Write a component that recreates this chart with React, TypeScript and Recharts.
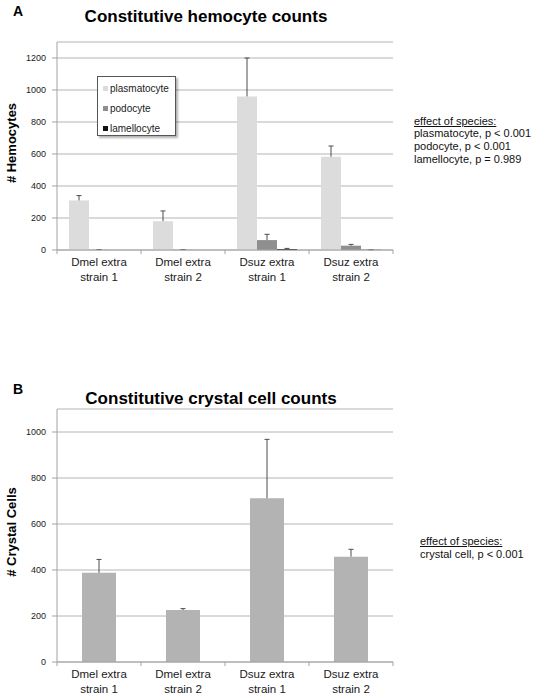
import React from 'react';
import { BarChart, Bar, XAxis, YAxis, CartesianGrid } from 'recharts';

const categories = ['Dmel extra strain 1', 'Dmel extra strain 2', 'Dsuz extra strain 1', 'Dsuz extra strain 2'];
const plasmatocyte = [310, 180, 960, 583];
const plasmatocyteErr = [30, 64, 240, 67];
const podocyte = [1, 1, 62, 27];
const podocyteErr = [2, 2, 36, 8];
const lamellocyte = [0, 0, 6, 1];
const lamellocyteErr = [0, 0, 4, 1];
const crystalCell = [388, 226, 712, 458];
const crystalCellErr = [58, 6, 256, 32];
const ticksA = [0, 200, 400, 600, 800, 1000, 1200];
const ticksB = [0, 200, 400, 600, 800, 1000];
const seriesNamesA = ['plasmatocyte', 'podocyte', 'lamellocyte'];
const seriesColorsA = ['#dcdcdc', '#8f8f8f', '#111111'];
const statsA = ['plasmatocyte, p < 0.001', 'podocyte, p < 0.001', 'lamellocyte, p = 0.989'];
const statsB = ['crystal cell, p < 0.001'];

const dataA = categories.map((name, i) => ({
  name,
  plasmatocyte: plasmatocyte[i],
  plasmatocyteErr: plasmatocyteErr[i],
  podocyte: podocyte[i],
  podocyteErr: podocyteErr[i],
  lamellocyte: lamellocyte[i],
  lamellocyteErr: lamellocyteErr[i],
}));
const dataB = categories.map((name, i) => ({
  name,
  crystal: crystalCell[i],
  crystalErr: crystalCellErr[i],
}));

const FONT = '"Liberation Sans", Arial, Helvetica, sans-serif';
const AXIS = '#a3a3a3';
const GRID = '#b4b4b4';
const ERR = '#4d4d4d';

function ErrShape(props: any) {
  const { x, y, width, height } = props;
  if (!height || height <= 0) return <g />;
  const cx = x + width / 2;
  return (
    <g>
      <line x1={cx} x2={cx} y1={y + height} y2={y} stroke={ERR} strokeWidth={1} />
      <line x1={cx - 2.5} x2={cx + 2.5} y1={y} y2={y} stroke={ERR} strokeWidth={1} />
    </g>
  );
}

function CategoryTick(props: any) {
  const { x, y, payload, index } = props;
  const text: string = payload.value;
  const lines = text.replace(' strain', '\nstrain').split('\n');
  const half = 42;
  return (
    <g>
      <line x1={x - half} x2={x - half} y1={y} y2={y + 4} stroke={AXIS} />
      {index === categories.length - 1 && <line x1={x + half} x2={x + half} y1={y} y2={y + 4} stroke={AXIS} />}
      <text x={x} y={y} textAnchor="middle" fontSize={11.5} fill="#1a1a1a" fontFamily={FONT}>
        <tspan x={x} dy={16}>{lines[0]}</tspan>
        <tspan x={x} dy={15}>{lines[1]}</tspan>
      </text>
    </g>
  );
}

const abs = (o: React.CSSProperties): React.CSSProperties => ({ position: 'absolute', ...o });

export default function App() {
  return (
    <div style={{ position: 'absolute', left: 0, top: 0, width: 537, height: 696, background: '#fff', fontFamily: FONT, color: '#000' }}>
      {/* Panel A */}
      <div style={abs({ left: 13, top: 2, fontSize: 14, fontWeight: 'bold', lineHeight: '18px' })}>A</div>
      <div style={abs({ left: 56, width: 300, top: 6, textAlign: 'center', fontSize: 17, fontWeight: 'bold', lineHeight: '22px' })}>
        Constitutive hemocyte counts
      </div>
      <div style={abs({ left: 11.5 - 60, top: 142.5 - 9, width: 120, height: 18, lineHeight: '18px', textAlign: 'center', transform: 'rotate(-90deg)', fontSize: 13, fontWeight: 'bold' })}>
        # Hemocytes
      </div>
      <div style={abs({ left: 0, top: 0 })}>
        <BarChart width={537} height={300} data={dataA} margin={{ top: 42, right: 144, bottom: 10, left: 17 }} barCategoryGap={12} barGap={0}>
          <CartesianGrid vertical={false} stroke={GRID} />
          <XAxis dataKey="name" interval={0} tick={<CategoryTick />} tickLine={false} tickSize={0} tickMargin={0} height={40} stroke={AXIS} />
          <YAxis domain={[0, 1300]} ticks={ticksA} width={40} tickSize={5} tickMargin={6} stroke={AXIS} tick={{ fontSize: 9, fill: '#1a1a1a', fontFamily: FONT }} />
          <Bar dataKey="plasmatocyte" stackId="p" fill={seriesColorsA[0]} isAnimationActive={false} />
          <Bar dataKey="plasmatocyteErr" stackId="p" fill="none" shape={<ErrShape />} isAnimationActive={false} />
          <Bar dataKey="podocyte" stackId="o" fill={seriesColorsA[1]} isAnimationActive={false} />
          <Bar dataKey="podocyteErr" stackId="o" fill="none" shape={<ErrShape />} isAnimationActive={false} />
          <Bar dataKey="lamellocyte" stackId="l" fill={seriesColorsA[2]} isAnimationActive={false} />
          <Bar dataKey="lamellocyteErr" stackId="l" fill="none" shape={<ErrShape />} isAnimationActive={false} />
        </BarChart>
      </div>
      <div
        style={abs({
          left: 97,
          top: 76,
          width: 77,
          height: 58,
          border: '1px solid #555',
          background: '#fff',
          boxShadow: '2px 2px 2px rgba(0,0,0,0.3)',
        })}
      >
        {seriesNamesA.map((n, i) => (
          <div key={n} style={abs({ left: 5, top: 4 + i * 20, height: 14, display: 'flex', alignItems: 'center', whiteSpace: 'nowrap' })}>
            <div style={{ width: 5, height: 5, background: seriesColorsA[i], marginRight: 2 }} />
            <span style={{ fontSize: 10, color: '#1a1a1a' }}>{n}</span>
          </div>
        ))}
      </div>
      <div style={abs({ left: 414, top: 114.6, fontSize: 11, lineHeight: '12.8px', whiteSpace: 'nowrap', color: '#111' })}>
        <div style={{ textDecoration: 'underline' }}>effect of species:</div>
        {statsA.map((s, i) => (
          <div key={i}>{s}</div>
        ))}
      </div>

      {/* Panel B */}
      <div style={abs({ left: 13, top: 380, fontSize: 14, fontWeight: 'bold', lineHeight: '18px' })}>B</div>
      <div style={abs({ left: 61, width: 300, top: 388, textAlign: 'center', fontSize: 17, fontWeight: 'bold', lineHeight: '22px' })}>
        Constitutive crystal cell counts
      </div>
      <div style={abs({ left: 12 - 60, top: 531.5 - 9, width: 120, height: 18, lineHeight: '18px', textAlign: 'center', transform: 'rotate(-90deg)', fontSize: 13, fontWeight: 'bold' })}>
        # Crystal Cells
      </div>
      <div style={abs({ left: 0, top: 340 })}>
        <BarChart width={537} height={356} data={dataB} margin={{ top: 69, right: 144, bottom: 4, left: 17 }} barCategoryGap={25} barGap={0}>
          <CartesianGrid vertical={false} stroke={GRID} />
          <XAxis dataKey="name" interval={0} tick={<CategoryTick />} tickLine={false} tickSize={0} tickMargin={0} height={30} stroke={AXIS} />
          <YAxis domain={[0, 1100]} ticks={ticksB} width={40} tickSize={5} tickMargin={6} stroke={AXIS} tick={{ fontSize: 9, fill: '#1a1a1a', fontFamily: FONT }} />
          <Bar dataKey="crystal" stackId="c" fill="#b3b3b3" isAnimationActive={false} />
          <Bar dataKey="crystalErr" stackId="c" fill="none" shape={<ErrShape />} isAnimationActive={false} />
        </BarChart>
      </div>
      <div style={abs({ left: 420, top: 535.2, fontSize: 11, lineHeight: '13.3px', whiteSpace: 'nowrap', color: '#111' })}>
        <div style={{ textDecoration: 'underline' }}>effect of species:</div>
        {statsB.map((s, i) => (
          <div key={i}>{s}</div>
        ))}
      </div>
    </div>
  );
}
